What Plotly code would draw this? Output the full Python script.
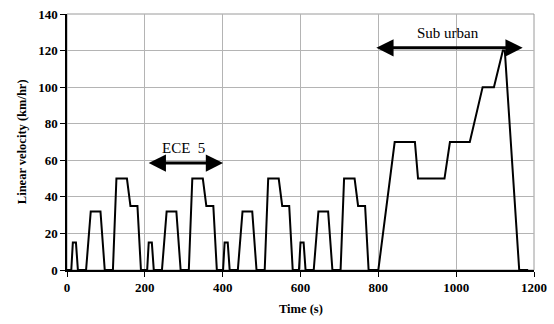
import plotly.graph_objects as go

# ECE-15 urban cycle template (relative time s, speed km/h)
ece_t = [0, 11, 15, 23, 28, 49, 61, 86, 97, 118, 127, 154, 163, 181, 190, 195]
ece_v = [0, 0, 15, 15, 0, 0, 32, 32, 0, 0, 50, 50, 35, 35, 0, 0]
n_cycles = 4
cycle_len = 195

# Extra-urban (sub urban) part
eudc_t = [800, 842, 894, 902, 970, 984, 1035, 1068, 1097, 1120, 1125, 1162, 1185]
eudc_v = [0, 70, 70, 50, 50, 70, 70, 100, 100, 120, 120, 0, 0]

x_ticks = [0, 200, 400, 600, 800, 1000, 1200]
y_ticks = [0, 20, 40, 60, 80, 100, 120, 140]

time = []
speed = []
for c in range(n_cycles):
    for t, v in zip(ece_t, ece_v):
        time.append(c * cycle_len + t)
        speed.append(v)
time += eudc_t
speed += eudc_v

fig = go.Figure()
fig.add_trace(go.Scatter(x=time, y=speed, mode="lines",
                         line=dict(color="black", width=2), showlegend=False,
                         hoverinfo="skip"))

serif = "Liberation Serif, Times New Roman, serif"

fig.add_shape(type="rect", xref="paper", yref="paper", x0=0, y0=0, x1=1, y1=1,
              line=dict(color="#9a9a9a", width=1), layer="below")

# ECE 5 annotation
fig.add_annotation(x=401, y=58.5, ax=206, ay=58.5, xref="x", yref="y",
                   axref="x", ayref="y", showarrow=True, arrowside="end+start",
                   arrowhead=2, arrowsize=1.15, arrowwidth=3, arrowcolor="black",
                   standoff=0, startstandoff=0, text="")
fig.add_annotation(x=300, y=66.5, xref="x", yref="y", text="ECE  5",
                   showarrow=False, font=dict(family=serif, size=15, color="black"))

# Sub urban annotation
fig.add_annotation(x=1171, y=121.5, ax=791, ay=121.5, xref="x", yref="y",
                   axref="x", ayref="y", showarrow=True, arrowside="end+start",
                   arrowhead=2, arrowsize=1.15, arrowwidth=3, arrowcolor="black",
                   standoff=0, startstandoff=0, text="")
fig.add_annotation(x=978, y=129.5, xref="x", yref="y", text="Sub urban",
                   showarrow=False, font=dict(family=serif, size=15, color="black"))

# Axis titles
fig.add_annotation(x=0.5, y=-0.152, xref="paper", yref="paper", yanchor="middle",
                   text="<b>Time (s)</b>", showarrow=False,
                   font=dict(family=serif, size=12.5, color="black"))
fig.add_annotation(x=-0.096, y=0.5, xref="paper", yref="paper", xanchor="center",
                   yanchor="middle",
                   text="<b>Linear velocity (km/hr)</b>", showarrow=False, textangle=-90,
                   font=dict(family=serif, size=12.5, color="black"))

fig.update_layout(
    width=554, height=324,
    margin=dict(l=67, r=20, t=14, b=54, autoexpand=False),
    paper_bgcolor="white", plot_bgcolor="white",
    font=dict(family=serif, color="black"),
)
fig.update_xaxes(range=[0, 1200], tickvals=x_ticks, ticktext=[str(v) for v in x_ticks],
                 showgrid=True, gridcolor="#b4b4b4", gridwidth=1,
                 showline=True, linecolor="black", linewidth=1.5,
                 ticks="outside", ticklen=5, tickcolor="black", zeroline=False,
                 automargin=False,
                 tickfont=dict(family=serif, size=13, color="black", weight="bold"))
fig.update_yaxes(range=[0, 140], tickvals=y_ticks, ticktext=[str(v) for v in y_ticks],
                 showgrid=True, gridcolor="#b4b4b4", gridwidth=1,
                 showline=True, linecolor="black", linewidth=1.5,
                 ticks="outside", ticklen=5, tickcolor="black", zeroline=False,
                 automargin=False,
                 tickfont=dict(family=serif, size=13, color="black", weight="bold"))

fig.write_html("out.html", config={"displayModeBar": False},
               post_script="document.body.style.margin='0';")
